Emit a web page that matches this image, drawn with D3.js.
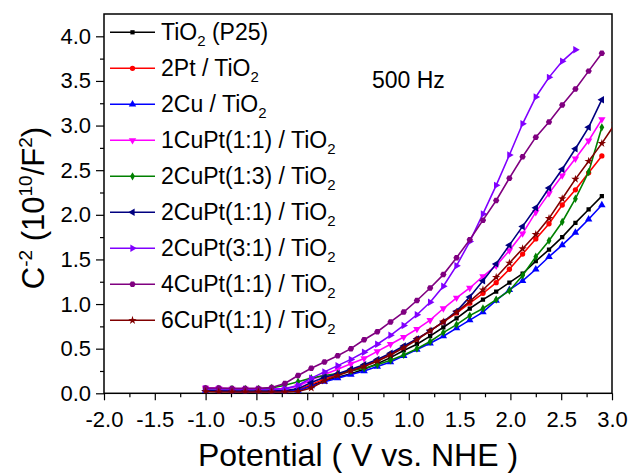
<!DOCTYPE html>
<html>
<head>
<meta charset="utf-8">
<script src="https://cdn.jsdelivr.net/npm/d3@7"></script>
<style>
  body { margin: 0; background: #fff; }
  text { font-family: "Liberation Sans", Arial, sans-serif; fill: #000; }
</style>
</head>
<body>
<div id="chart"></div>
<script>
// potential (V vs. NHE) where markers sit
var potential = [-1.00, -0.87, -0.74, -0.61, -0.48, -0.35, -0.22, -0.09, 0.04, 0.17, 0.30, 0.43, 0.56, 0.69, 0.82, 0.95,
  1.08, 1.21, 1.34, 1.47, 1.60, 1.73, 1.86, 1.99, 2.12, 2.25, 2.38, 2.51, 2.64, 2.77, 2.90, 3.03];

// C^-2 values (10^10 / F^2)
var tio2    = [0.03, 0.025, 0.02, 0.02, 0.02, 0.02, 0.02, 0.03, 0.09, 0.14, 0.18, 0.22, 0.27, 0.33, 0.40, 0.48,
  0.55, 0.64, 0.74, 0.84, 0.95, 1.05, 1.14, 1.24, 1.34, 1.48, 1.61, 1.75, 1.91, 2.06, 2.21];
var pt2     = [0.03, 0.025, 0.02, 0.02, 0.02, 0.02, 0.02, 0.04, 0.10, 0.16, 0.21, 0.26, 0.31, 0.37, 0.44, 0.52,
  0.61, 0.70, 0.80, 0.90, 1.01, 1.12, 1.24, 1.39, 1.56, 1.73, 1.90, 2.11, 2.28, 2.47, 2.66];
var cu2     = [0.03, 0.025, 0.02, 0.02, 0.02, 0.02, 0.02, 0.03, 0.08, 0.13, 0.17, 0.21, 0.25, 0.30, 0.35, 0.42,
  0.49, 0.56, 0.64, 0.73, 0.82, 0.91, 1.04, 1.16, 1.26, 1.39, 1.53, 1.66, 1.80, 1.95, 2.11];
var cuPt11a = [0.06, 0.055, 0.05, 0.05, 0.05, 0.05, 0.05, 0.08, 0.15, 0.21, 0.27, 0.33, 0.39, 0.47, 0.55, 0.63,
  0.72, 0.82, 0.95, 1.07, 1.18, 1.31, 1.43, 1.60, 1.79, 2.03, 2.24, 2.44, 2.63, 2.83, 3.07];
var cuPt13  = [0.05, 0.05, 0.05, 0.05, 0.05, 0.06, 0.09, 0.13, 0.17, 0.20, 0.22, 0.25, 0.28, 0.32, 0.37, 0.43,
  0.50, 0.58, 0.68, 0.77, 0.87, 0.95, 1.05, 1.15, 1.32, 1.53, 1.71, 1.92, 2.18, 2.48, 2.98];
var cuPt11b = [0.03, 0.025, 0.025, 0.025, 0.025, 0.025, 0.03, 0.05, 0.12, 0.18, 0.22, 0.27, 0.32, 0.38, 0.45, 0.53,
  0.61, 0.70, 0.80, 0.92, 1.08, 1.26, 1.45, 1.66, 1.87, 2.08, 2.30, 2.51, 2.74, 2.98, 3.29];
var cuPt31  = [0.05, 0.05, 0.045, 0.045, 0.045, 0.045, 0.05, 0.09, 0.17, 0.24, 0.31, 0.38, 0.46, 0.55, 0.65, 0.76,
  0.88, 1.02, 1.20, 1.43, 1.70, 2.01, 2.33, 2.67, 3.02, 3.32, 3.54, 3.72, 3.85];
var cuPt11c = [0.06, 0.06, 0.055, 0.055, 0.055, 0.065, 0.11, 0.20, 0.28, 0.35, 0.42, 0.50, 0.60, 0.69, 0.80, 0.91,
  1.04, 1.18, 1.33, 1.52, 1.72, 1.94, 2.16, 2.41, 2.65, 2.87, 3.04, 3.23, 3.41, 3.61, 3.81];
var cuPt11d = [0.02, 0.015, 0.015, 0.015, 0.015, 0.015, 0.015, 0.02, 0.06, 0.14, 0.20, 0.25, 0.30, 0.36, 0.43, 0.51,
  0.60, 0.70, 0.80, 0.91, 1.03, 1.16, 1.30, 1.46, 1.62, 1.78, 1.96, 2.18, 2.40, 2.60, 2.80, 3.02];

// legend labels: text before the subscript, subscript, text after
var labelMain = ["TiO", "2Pt / TiO", "2Cu / TiO", "1CuPt(1:1) / TiO", "2CuPt(1:3) / TiO",
  "2CuPt(1:1) / TiO", "2CuPt(3:1) / TiO", "4CuPt(1:1) / TiO", "6CuPt(1:1) / TiO"];
var labelSub = ["2", "2", "2", "2", "2", "2", "2", "2", "2"];
var labelAfter = [" (P25)", "", "", "", "", "", "", "", ""];
var colors = ["#000000", "#ff0000", "#0000ff", "#ff00ff", "#008000", "#000080", "#8000ff", "#800080", "#800000"];
var shapes = ["square", "circle", "up", "down", "diamond", "left", "right", "hexagon", "star"];

var xTicks = [-2.0, -1.5, -1.0, -0.5, 0.0, 0.5, 1.0, 1.5, 2.0, 2.5, 3.0];
var yTicks = [0.0, 0.5, 1.0, 1.5, 2.0, 2.5, 3.0, 3.5, 4.0];

var values = [tio2, pt2, cu2, cuPt11a, cuPt13, cuPt11b, cuPt31, cuPt11c, cuPt11d];
var series = values.map(function(v, i) {
  return {
    color: colors[i], shape: shapes[i],
    points: v.map(function(y, j) { return {x: potential[j], y: y}; })
  };
});

var W = 632, H = 475;
var svg = d3.select("#chart").append("svg")
  .attr("width", W).attr("height", H);

var x = d3.scaleLinear().domain([-2, 3]).range([104, 612]);
var y = d3.scaleLinear().domain([0, 4.25]).range([393.3, 14]);

// minor ticks
svg.append("g")
  .attr("transform", "translate(0," + y(0) + ")")
  .call(d3.axisBottom(x).tickValues(d3.range(-1.75, 3, 0.5)).tickSize(4).tickFormat(""))
  .call(function(g) { g.select(".domain").remove(); });
svg.append("g")
  .attr("transform", "translate(" + x(-2) + ",0)")
  .call(d3.axisLeft(y).tickValues(d3.range(0.25, 4.25, 0.5)).tickSize(4).tickFormat(""))
  .call(function(g) { g.select(".domain").remove(); });

// major ticks
var xAxis = svg.append("g")
  .attr("transform", "translate(0," + y(0) + ")")
  .call(d3.axisBottom(x).tickValues(xTicks).tickSize(7).tickPadding(11).tickFormat(d3.format(".1f")));
var yAxis = svg.append("g")
  .attr("transform", "translate(" + x(-2) + ",0)")
  .call(d3.axisLeft(y).tickValues(yTicks).tickSize(8).tickPadding(5).tickFormat(d3.format(".1f")));
[xAxis, yAxis].forEach(function(g) {
  g.select(".domain").remove();
  g.selectAll("text").attr("font-size", 22).attr("font-family", null).text(function(d) {
    return d3.format(".1f")(d).replace("\u2212", "-");
  });
});
svg.selectAll("g .tick line").attr("stroke-width", 1.2);

// frame
svg.append("rect")
  .attr("x", x(-2)).attr("y", y(4.25))
  .attr("width", x(3) - x(-2)).attr("height", y(0) - y(4.25))
  .attr("fill", "none").attr("stroke", "#000").attr("stroke-width", 1.5);

svg.append("clipPath").attr("id", "clip")
  .append("rect")
  .attr("x", x(-2)).attr("y", y(4.25))
  .attr("width", x(3) - x(-2)).attr("height", y(0) - y(4.25));

// marker paths
var hexagon = {
  draw: function(ctx, size) {
    var r = Math.sqrt(size / 2.6);
    for (var k = 0; k < 6; k++) {
      var a = Math.PI / 3 * k;
      if (k === 0) ctx.moveTo(r * Math.cos(a), r * Math.sin(a));
      else ctx.lineTo(r * Math.cos(a), r * Math.sin(a));
    }
    ctx.closePath();
  }
};
function marker(shape) {
  var map = {
    square: [d3.symbolSquare, 18, 0], circle: [d3.symbolCircle, 22, 0],
    up: [d3.symbolTriangle, 24, 0], down: [d3.symbolTriangle, 24, 180],
    diamond: [d3.symbolDiamond, 20, 0], left: [d3.symbolTriangle, 24, -90],
    right: [d3.symbolTriangle, 24, 90], hexagon: [hexagon, 26, 0], star: [d3.symbolStar, 22, 0]
  };
  return map[shape];
}

var line = d3.line().x(function(d) { return x(d.x); }).y(function(d) { return y(d.y); });

var plot = svg.append("g").attr("clip-path", "url(#clip)");
series.forEach(function(s) {
  var g = plot.append("g");
  g.append("path").datum(s.points)
    .attr("d", line).attr("fill", "none")
    .attr("stroke", s.color).attr("stroke-width", 1.6);
  var m = marker(s.shape);
  g.selectAll("path.pt").data(s.points).enter().append("path")
    .attr("class", "pt")
    .attr("d", d3.symbol().type(m[0]).size(m[1]))
    .attr("transform", function(d) { return "translate(" + x(d.x) + "," + y(d.y) + ") rotate(" + m[2] + ")"; })
    .attr("fill", s.color);
});

// legend
var legend = svg.append("g");
series.forEach(function(s, i) {
  var cy = 32.3 + 36 * i;
  legend.append("line")
    .attr("x1", 110).attr("x2", 155).attr("y1", cy).attr("y2", cy)
    .attr("stroke", s.color).attr("stroke-width", 1.6);
  var m = marker(s.shape);
  legend.append("path")
    .attr("d", d3.symbol().type(m[0]).size(m[1]))
    .attr("transform", "translate(132.5," + cy + ") rotate(" + m[2] + ")")
    .attr("fill", s.color);
  var t = legend.append("text").attr("x", 161).attr("y", cy + 8).attr("font-size", 23);
  t.append("tspan").text(labelMain[i]);
  t.append("tspan").attr("font-size", 15).attr("dy", 6).text(labelSub[i]);
  if (labelAfter[i]) t.append("tspan").attr("dy", -6).text(labelAfter[i]);
});

svg.append("text").attr("x", 372).attr("y", 88).attr("font-size", 23).text("500 Hz");

// axis titles
svg.append("text")
  .attr("x", (x(-2) + x(3)) / 2).attr("y", 466)
  .attr("text-anchor", "middle").attr("font-size", 32)
  .text("Potential ( V vs. NHE )");

var yt = svg.append("text")
  .attr("transform", "translate(44,208) rotate(-90)")
  .attr("text-anchor", "middle").attr("font-size", 31);
yt.append("tspan").text("C");
yt.append("tspan").attr("font-size", 19).attr("dy", -12).text("-2");
yt.append("tspan").attr("dy", 12).text(" (10");
yt.append("tspan").attr("font-size", 19).attr("dy", -12).text("10");
yt.append("tspan").attr("dy", 12).text("/F");
yt.append("tspan").attr("font-size", 19).attr("dy", -12).text("2");
yt.append("tspan").attr("dy", 12).text(")");
</script>
</body>
</html>
